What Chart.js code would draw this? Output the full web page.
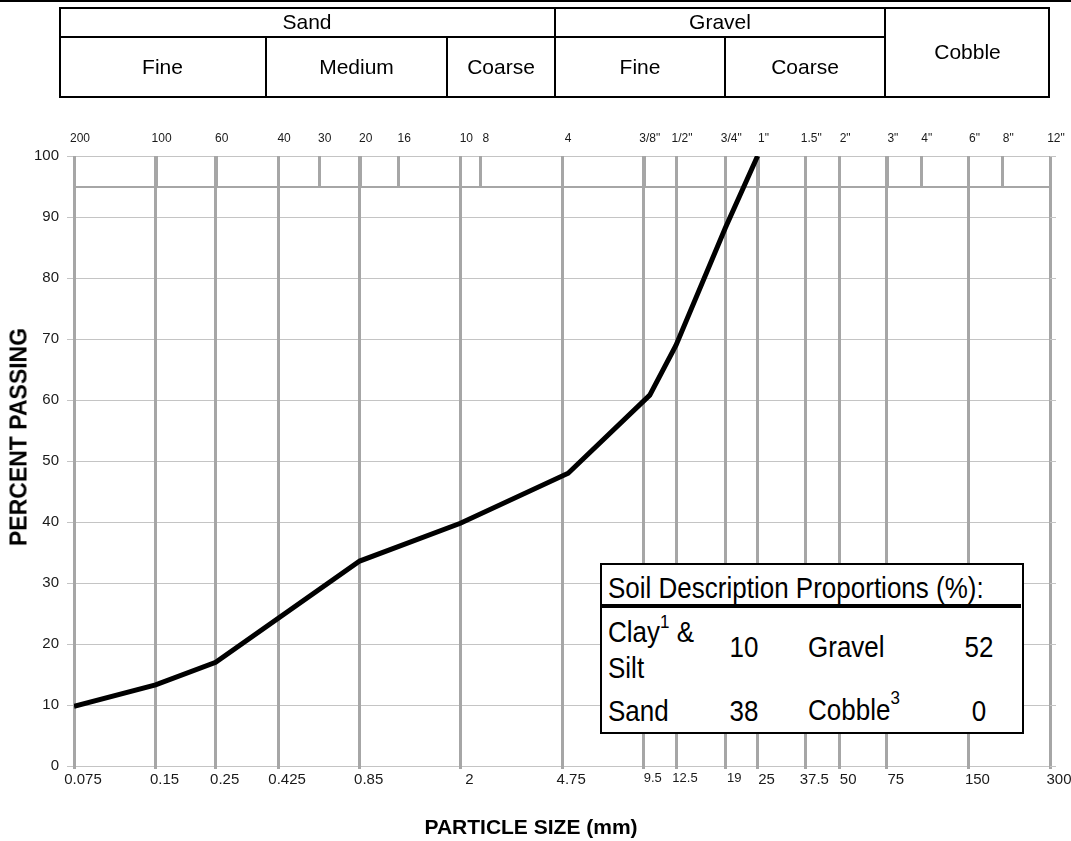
<!DOCTYPE html>
<html>
<head>
<meta charset="utf-8">
<script src="https://cdn.jsdelivr.net/npm/chart.js@4.4.1/dist/chart.umd.min.js"></script>
<style>
body { margin: 0; background: #fff; font-family: "Liberation Sans", Arial, sans-serif; }
#wrap { position: relative; width: 1071px; height: 841px; overflow: hidden; }
#chart { position: absolute; left: 0; top: 0; }
.box { position: absolute; border: 2px solid #000; box-sizing: border-box; }
.rule { position: absolute; background: #000; }
.cell { position: absolute; display: flex; align-items: center; justify-content: center; font-size: 21px; color: #000; }
.title { position: absolute; font-weight: bold; color: #000; white-space: nowrap; line-height: 1; }
#inset { position: absolute; left: 600px; top: 563px; width: 424px; height: 171px; border: 2px solid #000; background: #fff; box-sizing: border-box; }
#inset div { position: absolute; font-size: 26px; line-height: 26px; white-space: nowrap; color: #000; transform: scaleY(1.12); transform-origin: 0 85%; }
#inset div.rule { transform: none; }
#inset .num { width: 60px; text-align: center; }
.sup { position: relative; font-size: 17px; }
</style>
</head>
<body>
<div id="wrap">
  <canvas id="chart" width="1071" height="841"></canvas>

  <!-- rule across the top -->
  <div class="rule" style="left:0; top:0; width:1071px; height:2px;"></div>

  <!-- soil classification header -->
  <div class="box" style="left:59px; top:7px; width:991px; height:91px;"></div>
  <div class="rule" style="left:59px; top:36px; width:826px; height:2px;"></div>
  <div class="rule" style="left:554px; top:7px; width:2px; height:91px;"></div>
  <div class="rule" style="left:884px; top:7px; width:2px; height:91px;"></div>
  <div class="rule" style="left:265px; top:36px; width:2px; height:62px;"></div>
  <div class="rule" style="left:446px; top:36px; width:2px; height:62px;"></div>
  <div class="rule" style="left:724px; top:36px; width:2px; height:62px;"></div>
  <div class="cell" style="left:59px; top:7px; width:496px; height:30px;">Sand</div>
  <div class="cell" style="left:555px; top:7px; width:330px; height:30px;">Gravel</div>
  <div class="cell" style="left:885px; top:7px; width:165px; height:90px;">Cobble</div>
  <div class="cell" style="left:59px; top:37px; width:207px; height:60px;">Fine</div>
  <div class="cell" style="left:266px; top:37px; width:181px; height:60px;">Medium</div>
  <div class="cell" style="left:447px; top:37px; width:108px; height:60px;">Coarse</div>
  <div class="cell" style="left:555px; top:37px; width:170px; height:60px;">Fine</div>
  <div class="cell" style="left:725px; top:37px; width:160px; height:60px;">Coarse</div>

  <!-- axis titles -->
  <div class="title" style="left:19px; top:437px; font-size:23px; transform:translate(-50%,-50%) rotate(-90deg);">PERCENT PASSING</div>
  <div class="title" style="left:331px; top:816px; width:400px; text-align:center; font-size:21px;">PARTICLE SIZE (mm)</div>

  <!-- proportions box -->
  <div id="inset">
    <div style="left:6px; top:11px;">Soil Description Proportions (%):</div>
    <div class="rule" style="left:0; top:39px; width:419px; height:4px;"></div>
    <div style="left:6px; top:55px;">Clay<span class="sup" style="top:-12px;">1</span> &amp;</div>
    <div style="left:6px; top:91px;">Silt</div>
    <div id="vClaySilt" class="num" style="left:112px; top:70px;"></div>
    <div style="left:206px; top:70px;">Gravel</div>
    <div id="vGravel" class="num" style="left:347px; top:70px;"></div>
    <div style="left:6px; top:134px;">Sand</div>
    <div id="vSand" class="num" style="left:112px; top:134px;"></div>
    <div style="left:206px; top:133px;">Cobble<span class="sup" style="top:-14px;">3</span></div>
    <div id="vCobble" class="num" style="left:347px; top:134px;"></div>
  </div>
</div>

<script>
var FONT = '"Liberation Sans", Arial, sans-serif';

// gradation curve: particle size (mm) and percent passing
var sizes = [0.075, 0.15, 0.25, 0.85, 2, 5, 10, 12.5, 19, 25];
var passing = [9.8, 13.3, 17.0, 33.6, 39.8, 48.0, 60.8, 69.0, 88.2, 100];

// bottom axis sizes (mm)
var sizeTicks = [0.075, 0.15, 0.25, 0.425, 0.85, 2, 4.75, 9.5, 12.5, 19, 25, 37.5, 50, 75, 150, 300];
var sizeLabels = ['0.075', '0.15', '0.25', '0.425', '0.85', '2', '4.75', '9.5', '12.5', '19', '25', '37.5', '50', '75', '150', '300'];
var smallTicks = [9.5, 12.5, 19];

// sieve numbers / openings along the top
var sieveSizes = [0.075, 0.15, 0.25, 0.425, 0.6, 0.85, 1.18, 2, 2.36, 4.75, 9.5, 12.5, 19, 25, 37.5, 50, 75, 100, 150, 200, 300];
var sieveLabels = ['200', '100', '60', '40', '30', '20', '16', '10', '8', '4', '3/8"', '1/2"', '3/4"', '1"', '1.5"', '2"', '3"', '4"', '6"', '8"', '12"'];

// soil description proportions (%)
var propNames = ['vClaySilt', 'vGravel', 'vSand', 'vCobble'];
var propValues = [10, 52, 38, 0];

propNames.forEach(function (id, i) {
    document.getElementById(id).textContent = propValues[i];
});

var GRID_DARK = '#a6a6a6';

// short sieve lines in the 95-100 band, plus the band's lower edge
var sieveBand = {
    id: 'sieveBand',
    beforeDatasetsDraw: function (chart) {
        var c = chart.ctx, x = chart.scales.x, y = chart.scales.y, area = chart.chartArea;
        var yTop = y.getPixelForValue(100), yLow = Math.round(y.getPixelForValue(95));
        c.save();
        c.strokeStyle = GRID_DARK;
        c.lineWidth = 3;
        c.beginPath();
        sieveSizes.forEach(function (v) {
            var px = Math.round(x.getPixelForValue(v)) + 0.5;
            c.moveTo(px, yTop);
            c.lineTo(px, yLow);
        });
        c.stroke();
        c.lineWidth = 2;
        c.beginPath();
        c.moveTo(area.left, yLow);
        c.lineTo(area.right, yLow);
        c.stroke();
        // grid lines run a little past the right edge
        c.strokeStyle = '#c4c4c4';
        c.lineWidth = 1;
        c.beginPath();
        for (var p = 0; p <= 100; p += 10) {
            var py = Math.round(y.getPixelForValue(p)) + 0.5;
            c.moveTo(area.right, py);
            c.lineTo(area.right + 6, py);
        }
        c.stroke();
        c.restore();
    }
};

var ctx = document.getElementById('chart').getContext('2d');
new Chart(ctx, {
    type: 'line',
    data: {
        datasets: [{
            data: sizes.map(function (s, i) { return {x: s, y: passing[i]}; }),
            borderColor: '#000',
            borderWidth: 5,
            pointRadius: 0,
            tension: 0,
            fill: false
        }]
    },
    options: {
        responsive: false,
        animation: false,
        events: [],
        layout: {padding: {left: 0, right: 21, top: 0, bottom: 0}},
        plugins: {legend: {display: false}, tooltip: {enabled: false}},
        scales: {
            x: {
                type: 'logarithmic',
                position: 'bottom',
                min: 0.075,
                max: 300,
                afterBuildTicks: function (axis) {
                    axis.ticks = sizeTicks.map(function (v) { return {value: v}; });
                },
                afterFit: function (axis) { axis.height = 75; },
                grid: {color: GRID_DARK, lineWidth: 3, tickLength: 3, z: 0},
                border: {display: false},
                ticks: {
                    autoSkip: false,
                    maxRotation: 0,
                    padding: 2,
                    labelOffset: 9,
                    color: '#1a1a1a',
                    font: function (c) {
                        var small = c.tick && smallTicks.indexOf(c.tick.value) >= 0;
                        return {family: FONT, size: small ? 13 : 15};
                    },
                    callback: function (v, i) { return sizeLabels[i]; }
                }
            },
            x2: {
                type: 'logarithmic',
                position: 'top',
                min: 0.075,
                max: 300,
                afterBuildTicks: function (axis) {
                    axis.ticks = sieveSizes.map(function (v) { return {value: v}; });
                },
                afterFit: function (axis) { axis.height = 156; },
                grid: {display: false, drawTicks: false},
                border: {display: false},
                ticks: {
                    autoSkip: false,
                    maxRotation: 0,
                    padding: 10,
                    labelOffset: 6,
                    color: '#1a1a1a',
                    font: {family: FONT, size: 12},
                    callback: function (v, i) { return sieveLabels[i]; }
                }
            },
            y: {
                min: 0,
                max: 100,
                afterFit: function (axis) { axis.width = 74; },
                grid: {color: '#c4c4c4', lineWidth: 1, tickLength: 7, z: -1},
                border: {display: false},
                ticks: {stepSize: 10, padding: 8, color: '#1a1a1a', font: {family: FONT, size: 15}}
            }
        }
    },
    plugins: [sieveBand]
});
</script>
</body>
</html>
